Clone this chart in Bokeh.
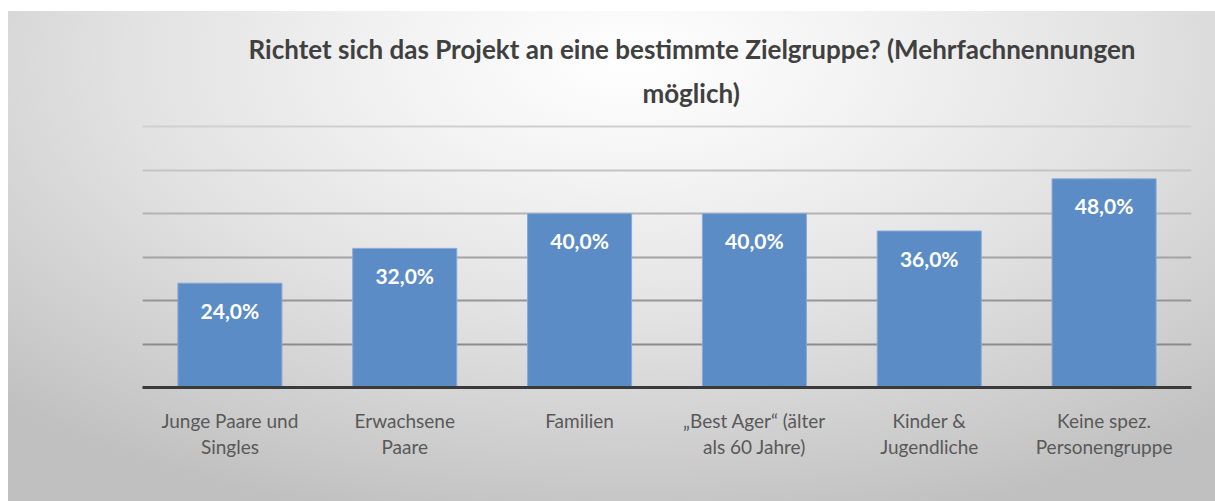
from bokeh.plotting import figure
from bokeh.models import ColumnDataSource, LabelSet, Title, Range1d, FixedTicker, Grid
from bokeh.core.properties import value
from bokeh.embed import file_html
from bokeh.resources import INLINE

categories = [
    "Junge Paare und\nSingles",
    "Erwachsene\nPaare",
    "Familien",
    "„Best Ager“ (älter\nals 60 Jahre)",
    "Kinder &\nJugendliche",
    "Keine spez.\nPersonengruppe",
]
values = [24.0, 32.0, 40.0, 40.0, 36.0, 48.0]
value_labels = ["24,0%", "32,0%", "40,0%", "40,0%", "36,0%", "48,0%"]
grid_ticks = [10, 20, 30, 40, 50, 60]
grid_colors = ["#8c8c8c", "#959595", "#a3a3a3", "#b3b3b3", "#c4c4c4", "#d0d0d0"]

title_lines = ["Richtet sich das Projekt an eine bestimmte Zielgruppe? (Mehrfachnennungen", "möglich)"]

FONT = "Lato"

source = ColumnDataSource(dict(cat=categories, val=values, lab=value_labels))

p = figure(
    x_range=categories,
    y_range=Range1d(0, 60.5),
    width=1215,
    height=501,
    output_backend="svg",
    toolbar_location=None,
    min_border_left=142,
    min_border_right=24,
    min_border_top=124,
    min_border_bottom=114,
)
p.styles = {
    "background": "linear-gradient(#ffffff, #ffffff) left top / 8px 100% no-repeat, "
                  "linear-gradient(#ffffff, #ffffff) left top / 100% 11px no-repeat, "
                  "radial-gradient(ellipse 75% 95% at 52% 12%, #ffffff 0%, #f3f3f3 25%, #e2e2e2 55%, #cccccc 85%, #c0c0c0 100%)"
}
p.border_fill_color = None
p.background_fill_color = None
p.outline_line_color = None

p.xgrid.grid_line_color = None
p.ygrid.grid_line_color = None
for t, c in zip(grid_ticks, grid_colors):
    p.add_layout(Grid(dimension=1, ticker=FixedTicker(ticks=[t]), grid_line_color=c, grid_line_width=2))

p.vbar(x="cat", top="val", width=0.595, source=source,
       fill_color="#5b8cc6", line_color="#86a9d8", line_width=1)

labels = LabelSet(x="cat", y="val", text="lab", source=source,
                  text_align="center", text_baseline="middle", y_offset=-27,
                  text_color="white", text_font=value(FONT), text_font_style="bold",
                  text_font_size="21px")
p.add_layout(labels)

p.yaxis.visible = False
ax = p.xaxis[0]
ax.axis_line_color = "#3a3a3a"
ax.axis_line_width = 3
ax.major_tick_line_color = None
ax.minor_tick_line_color = None
ax.major_label_standoff = 15
ax.major_label_text_font = FONT
ax.major_label_text_font_size = "19px"
ax.major_label_text_color = "#595959"
ax.major_label_text_line_height = 1.15

# title: two lines, each centred around the same point right of the plot centre
p.title = None
t2 = Title(text=title_lines[1], align="left", offset=500, standoff=32,
           text_font=FONT, text_font_style="bold", text_font_size="26px", text_color="#404040")
t1 = Title(text=title_lines[0], align="left", offset=106, standoff=-13,
           text_font=FONT, text_font_style="bold", text_font_size="26px", text_color="#404040")
p.add_layout(t2, "above")
p.add_layout(t1, "above")

open("out.html", "w").write(file_html(p, INLINE))
